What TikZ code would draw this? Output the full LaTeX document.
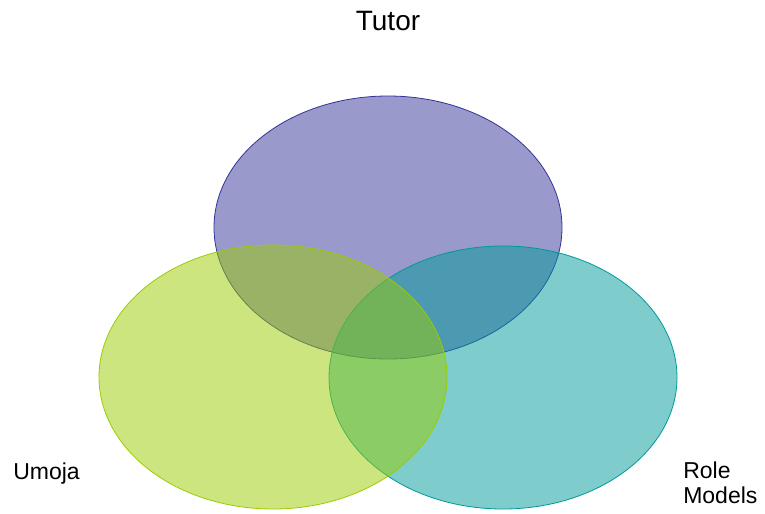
\documentclass[tikz,border=0pt]{standalone}
\usepackage{fontspec}
\setmainfont{Liberation Sans}
\definecolor{tutorblue}{RGB}{51,51,153}
\definecolor{umojagreen}{RGB}{153,204,0}
\definecolor{roleteal}{RGB}{0,153,153}
\tikzset{
	venn/.style={fill opacity=0.5, draw opacity=1, line width=0.6pt},
	lbl/.style={font=\fontsize{17.25}{18.75}\selectfont, inner sep=0pt}
}
\begin{document}
\begin{tikzpicture}[x=0.75pt,y=-0.75pt]
	\useasboundingbox (0,0) rectangle (765,514);
	% the three sets
	\draw[venn, fill=tutorblue, draw=tutorblue] (388,227.5) ellipse (174 and 131.5);
	\draw[venn, fill=roleteal, draw=roleteal] (503,377.5) ellipse (174 and 131.5);
	\draw[venn, fill=umojagreen, draw=umojagreen] (273,377) ellipse (174 and 132);
	% labels
	\node[lbl, font=\fontsize{21}{24}\selectfont, anchor=base] (tutor) at (388,31) {Tutor};
	\node[lbl, anchor=base west] (umoja) at (13,479) {Umoja};
	\node[lbl, anchor=base west, align=left] (role) at (683,503) {Role\\Models};
\end{tikzpicture}
\end{document}
